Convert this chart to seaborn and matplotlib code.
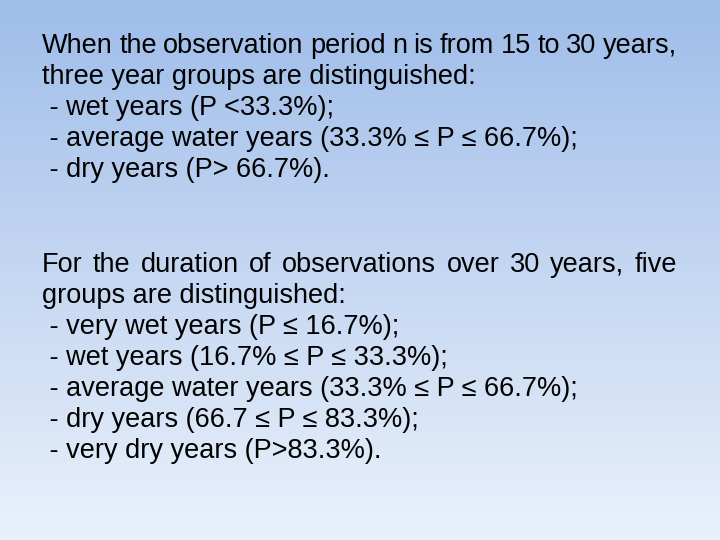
import matplotlib
matplotlib.use("Agg")
import matplotlib.pyplot as plt
import seaborn as sns
import numpy as np

sns.set_theme(style="white")
plt.rcParams['font.family'] = ['Liberation Sans', 'DejaVu Sans']

# slide text: (text, justified?)
para1 = [
    ("When the observation period n is from 15 to 30 years,", True),
    ("three year groups are distinguished:", False),
    (" - wet years (P <33.3%);", False),
    (" - average water years (33.3% \u2264 P \u2264 66.7%);", False),
    (" - dry years (P> 66.7%).", False),
]
para2 = [
    ("For the duration of observations over 30 years, five", True),
    ("groups are distinguished:", False),
    (" - very wet years (P \u2264 16.7%);", False),
    (" - wet years (16.7% \u2264 P \u2264 33.3%);", False),
    (" - average water years (33.3% \u2264 P \u2264 66.7%);", False),
    (" - dry years (66.7 \u2264 P \u2264 83.3%);", False),
    (" - very dry years (P>83.3%).", False),
]
para1_top = 46
para2_top = 265
line_step = 31

fig = plt.figure(figsize=(7.2, 5.4), dpi=100)
ax = fig.add_axes([0, 0, 1, 1])
ax.set_xlim(0, 720)
ax.set_ylim(540, 0)
ax.axis("off")

# vertical gradient background
top = np.array([0x9f, 0xbd, 0xe9]) / 255
bottom = np.array([0xea, 0xf1, 0xfb]) / 255
t = np.linspace(0, 1, 256)[:, None]
grad = top * (1 - t) + bottom * t
ax.imshow(grad[:, None, :].repeat(2, axis=1), extent=[0, 720, 540, 0], aspect="auto", zorder=0)

left, right = 42, 677
fs = 19.5
base_off = 7
fig.canvas.draw()
renderer = fig.canvas.get_renderer()


def width_px(s):
    tx = ax.text(0, 0, s, fontsize=fs)
    w = tx.get_window_extent(renderer).width
    tx.remove()
    return w


def draw_lines(lines, y0):
    for i, (line, justify) in enumerate(lines):
        y = y0 + i * line_step + base_off
        if not justify:
            ax.text(left, y, line, fontsize=fs, va="baseline", color="black")
            continue
        words = line.split()
        widths = [width_px(w) for w in words]
        gap = (right - left - sum(widths)) / (len(words) - 1)
        x = left
        for w, wd in zip(words, widths):
            ax.text(x, y, w, fontsize=fs, va="baseline", color="black")
            x += wd + gap


draw_lines(para1, para1_top)
draw_lines(para2, para2_top)

fig.savefig("out.png", dpi=100)
